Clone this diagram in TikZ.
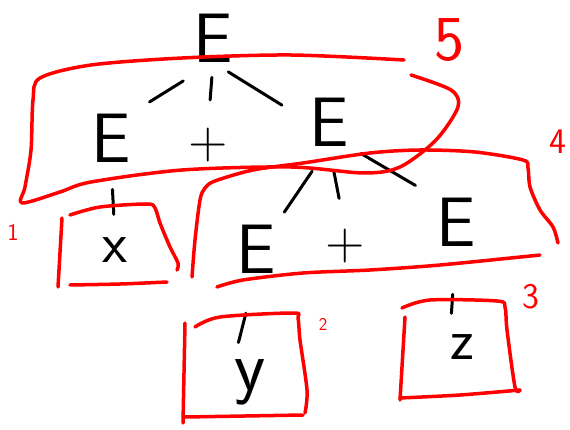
\documentclass[tikz,border=0pt]{standalone}
\usetikzlibrary{positioning}

\tikzset{
    nonterm/.style={font=\sffamily\fontsize{70}{70}\selectfont, inner sep=0pt},
    term/.style={font=\sffamily\fontsize{58}{58}\selectfont, inner sep=0pt},
    plussign/.style={font=\sffamily\fontsize{54}{54}\selectfont, inner sep=0pt},
    branch/.style={black, line width=3pt, line cap=round},
    redbox/.style={red, line width=3.5pt, line cap=round, line join=round},
    boxnum/.style={red, font=\sffamily, inner sep=0pt}
}

\begin{document}
\begin{tikzpicture}[x=1pt, y=-1pt]
    \useasboundingbox (0,0) rectangle (570,430);
    %%% Parse tree
    \node[nonterm] (root) at (213,38) {E};
    \node[nonterm] (e1) at (111,138) {E};
    \node[plussign] (p1) at (208,145) {+};
    \node[nonterm] (e2) at (329,122) {E};
    \node[term] (x) at (115,250) {x};
    \node[nonterm] (e3) at (256,249) {E};
    \node[plussign] (p2) at (345,246) {+};
    \node[nonterm] (e4) at (456,222) {E};
    \node[term, font=\sffamily\fontsize{72}{72}\selectfont] (y) at (250,382) {y};
    \node[term] (z) at (462,347) {z};
    %
    \draw[branch, shorten <=35pt, shorten >=22pt] (root.south) -- (e1.north east);
    \draw[branch, shorten <=15pt, shorten >=28pt] (root.south) -- (p1.north);
    \draw[branch, shorten <=18pt, shorten >=32pt] (root.south) -- (e2.west);
    \draw[branch, shorten <=27pt, shorten >=23pt] (e1.south) -- (x.north);
    \draw[branch, shorten <=30pt, shorten >=15pt] (e2.south) -- (e3.north east);
    \draw[branch, shorten <=26pt, shorten >=31pt] (e2.south) -- (p2.north);
    \draw[branch, shorten <=14pt, shorten >=24pt] (e2.south east) -- (e4.north west);
    \draw[branch, shorten <=41pt, shorten >=17pt] (e3.south) -- (y.north west);
    \draw[branch, shorten <=48pt, shorten >=21pt] (e4.south) -- (z.north west);
    %
    %%% Red boxes
    \draw[redbox] plot[smooth, tension=0.5] coordinates {(404,60) (291,55) (182,58) (91,65) (40,78) (33,100) (31,150) (25,187) (22,203) (60,192) (91,182) (182,170) (291,167) (364,173) (400,167) (436,140) (458,107) (451,90) (411,75)}; % box 5
    \draw[redbox] plot[smooth, tension=0.5] coordinates {(192,277) (195,240) (200,200) (205,188) (215,181) (253,170) (303,163) (370,153) (420,150) (475,152) (523,160) (528,168) (530,187) (540,210) (553,227) (558,243)}; % box 4
    \draw[redbox] plot[smooth, tension=0.5] coordinates {(217,287) (243,280) (303,273) (370,270) (440,265) (540,255)};
    \draw[redbox] (62,218) -- (58,287); % box 1
    \draw[redbox] plot[smooth, tension=0.5] coordinates {(70,215) (100,207) (147,204) (155,208) (160,223) (170,247) (178,263) (177,270)};
    \draw[redbox] plot[smooth, tension=0.5] coordinates {(70,285) (120,284) (167,282)};
    \draw[redbox] (185,323) -- (183,423); % box 2
    \draw[redbox] plot[smooth, tension=0.5] coordinates {(195,327) (220,317) (293,313) (298,318) (300,340) (307,390) (305,413)};
    \draw[redbox] plot[smooth, tension=0.5] coordinates {(185,417) (245,416) (303,415)};
    \draw[redbox] (405,317) -- (400,400); % box 3
    \draw[redbox] plot[smooth, tension=0.5] coordinates {(402,308) (430,300) (497,301) (505,307) (507,330) (515,387) (520,390)};
    \draw[redbox] plot[smooth, tension=0.5] coordinates {(400,398) (460,395) (520,390)};
    %
    \node[boxnum, font=\sffamily\fontsize{64}{64}\selectfont] (n5) at (450,40) {5};
    \node[boxnum, font=\sffamily\fontsize{36}{36}\selectfont] (n4) at (558,142) {4};
    \node[boxnum, font=\sffamily\fontsize{36}{36}\selectfont] (n3) at (531,297) {3};
    \node[boxnum, font=\sffamily\fontsize{18}{18}\selectfont] (n2) at (323,324) {2};
    \node[boxnum, font=\sffamily\fontsize{24}{24}\selectfont] (n1) at (13,232) {1};
\end{tikzpicture}
\end{document}
